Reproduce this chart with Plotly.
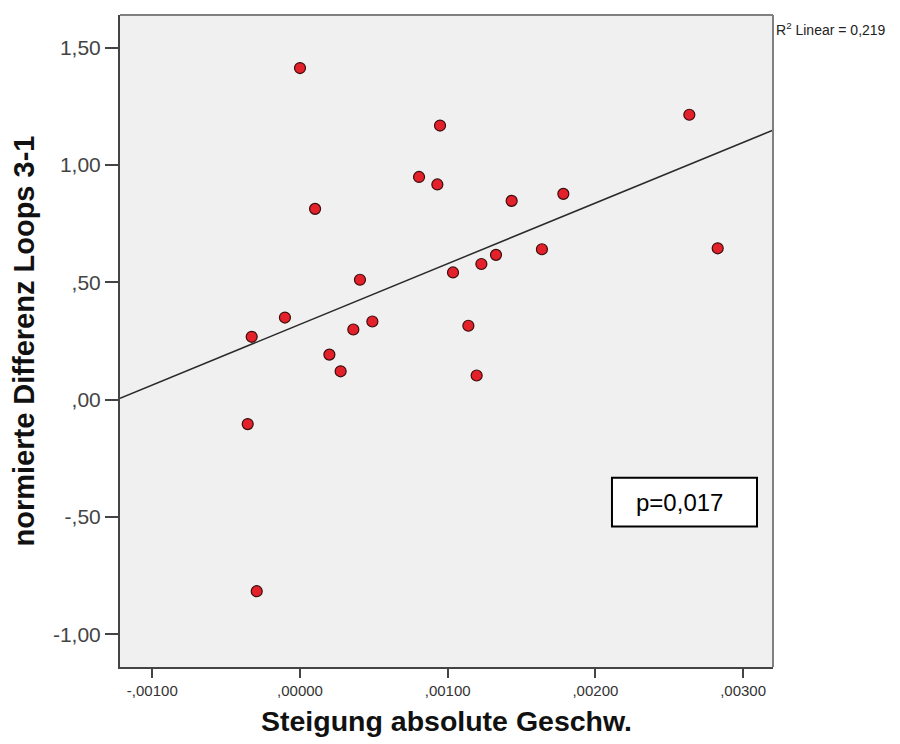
import numpy as np
import plotly.graph_objects as go

# Steigung absolute Geschwindigkeit (x) vs. normierte Differenz Loops 3-1 (y)
steigung = [0.0, 0.000948, 0.000806, 0.000930, 0.000102, 0.001433, 0.001783,
            0.001638, 0.001327, 0.001228, 0.001036, 0.002636, 0.002828,
            0.000406, -0.000102, -0.000327, 0.000490, 0.000361, 0.000199,
            0.000275, -0.000354, 0.001140, 0.001196, -0.000293]
differenz = [1.413, 1.168, 0.949, 0.917, 0.813, 0.847, 0.877, 0.641, 0.617,
             0.578, 0.542, 1.214, 0.645, 0.511, 0.350, 0.268, 0.333, 0.299,
             0.192, 0.121, -0.104, 0.315, 0.103, -0.816]

x_tickvals = [-0.001, 0.0, 0.001, 0.002, 0.003]
x_ticktext = ["-,00100", ",00000", ",00100", ",00200", ",00300"]
y_tickvals = [1.5, 1.0, 0.5, 0.0, -0.5, -1.0]
y_ticktext = ["1,50", "1,00", ",50", ",00", "-,50", "-1,00"]

x_range = [-0.0012187, 0.0032025]
y_range = [-1.139, 1.639]

r2_text = "R<sup>2</sup> Linear = 0,219"
p_text = "p=0,017"

# least-squares line across the whole x range
slope, intercept = np.polyfit(steigung, differenz, 1)
fit_x = np.array(x_range)
fit_y = intercept + slope * fit_x

fig = go.Figure()
fig.add_trace(go.Scatter(
    x=fit_x, y=fit_y, mode="lines",
    line=dict(color="#2a2a2a", width=1.5),
    hoverinfo="skip", showlegend=False,
))
fig.add_trace(go.Scatter(
    x=steigung, y=differenz, mode="markers",
    marker=dict(size=11, color="#e3212b", line=dict(color="#3a0c0c", width=1.2)),
    showlegend=False,
))

font_family = "Liberation Sans, Arial, sans-serif"

fig.update_layout(
    width=900, height=744,
    margin=dict(l=120, r=127, t=15, b=74),
    paper_bgcolor="white",
    plot_bgcolor="#f0f0f0",
    font=dict(family=font_family, color="#333333"),
    xaxis=dict(
        range=x_range, tickvals=x_tickvals, ticktext=x_ticktext,
        showgrid=False, zeroline=False,
        showline=True, linecolor="#444444", linewidth=2,
        ticks="outside", ticklen=9, tickwidth=2, tickcolor="#444444",
        tickfont=dict(size=15, color="#333333"),
        title=dict(text="<b>Steigung absolute Geschw.</b>",
                   font=dict(size=28.5, color="#111111"), standoff=13),
    ),
    yaxis=dict(
        range=y_range, tickvals=y_tickvals, ticktext=y_ticktext,
        showgrid=False, zeroline=False,
        showline=True, linecolor="#444444", linewidth=2,
        ticks="outside", ticklen=13, tickwidth=2, tickcolor="#444444",
        tickfont=dict(size=21, color="#444444"),
        title=dict(text="<b>normierte Differenz Loops 3-1</b>",
                   font=dict(size=29, color="#111111"), standoff=10),
    ),
    shapes=[
        # top and right frame of the plot area
        dict(type="line", xref="paper", yref="paper", x0=0, x1=1, y0=1, y1=1,
             line=dict(color="#808080", width=2)),
        dict(type="line", xref="paper", yref="paper", x0=1, x1=1, y0=0, y1=1,
             line=dict(color="#808080", width=2)),
        # frame around the p-value
        dict(type="rect", xref="paper", yref="paper",
             x0=0.7534, x1=0.9755, y0=0.2153, y1=0.2901,
             fillcolor="white", line=dict(color="black", width=2), layer="above"),
    ],
    annotations=[
        dict(text=r2_text, xref="paper", yref="paper", x=1.002, y=0.979,
             xanchor="left", yanchor="middle", showarrow=False,
             font=dict(size=14, color="#222222")),
        dict(text=p_text, xref="paper", yref="paper", x=0.7871, y=0.2527,
             xanchor="left", yanchor="middle", showarrow=False,
             font=dict(size=24, color="black")),
    ],
)

fig.write_html("out.html")
